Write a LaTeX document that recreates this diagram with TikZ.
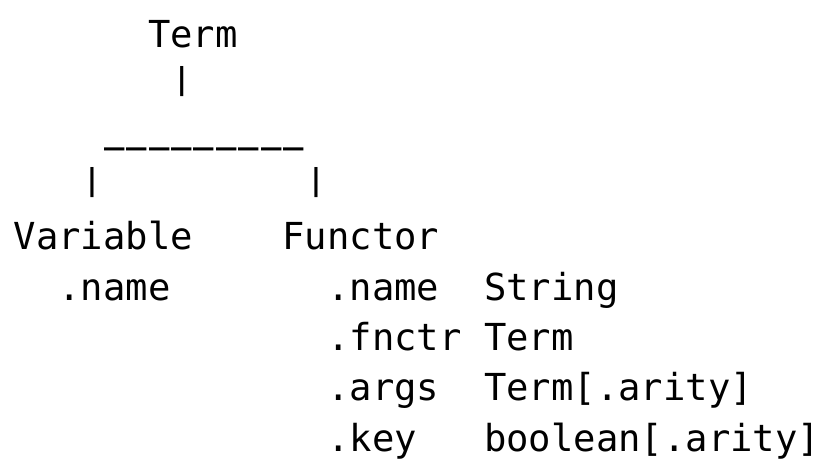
\documentclass[tikz,border=0pt]{standalone}
\usepackage{fontspec}
\usepackage{graphicx}
\setmonofont{DejaVu Sans Mono}
% a vertical bar that stands on the baseline, cap-high
\newcommand\stem{\raisebox{8.6pt}{\scalebox{1}[0.81]{|}}}
% one dash of the rule, a little narrower than its cell
\newcommand\dash{\makebox[22.4pt][c]{\raisebox{16.4pt}{\scalebox{0.91}[2.1]{\_}}}}
\begin{document}
\begin{tikzpicture}[x=1pt,y=-1pt,
  code/.style={anchor=base west, inner sep=0pt, outer sep=0pt,
    font=\ttfamily\fontsize{37.2}{50.4}\selectfont},
]
% character grid: column width 22.4, baseline pitch 50.4
\def\cx#1{13.7+#1*22.4}
\def\ry#1{48+#1*50.4}
\useasboundingbox[fill=white] (0,0) rectangle (821,460);

\node[code] (term)  at ({\cx{6}},{\ry{0}}) {Term};
\node[code] (bar)   at ({\cx{7}},{\ry{1}}) {\stem};
\node[code] (rule)  at ({\cx{4}},{\ry{2}}) {\dash\dash\dash\dash\dash\dash\dash\dash\dash};
\node[code] (barL)  at ({\cx{3}},{\ry{3}}) {\stem};
\node[code] (barR)  at ({\cx{13}},{\ry{3}}) {\stem};
\node[code] (var)   at ({\cx{0}},{\ry{4}}) {Variable};
\node[code] (fun)   at ({\cx{12}},{\ry{4}}) {Functor};
\node[code] (vname) at ({\cx{2}},{\ry{5}}) {.name};

\node[code] (fname)  at ({\cx{14}},{\ry{5}}) {.name};
\node[code] (ffnctr) at ({\cx{14}},{\ry{6}}) {.fnctr};
\node[code] (fargs)  at ({\cx{14}},{\ry{7}}) {.args};
\node[code] (fkey)   at ({\cx{14}},{\ry{8}}) {.key};

\node[code] (tname)  at ({\cx{21}},{\ry{5}}) {String};
\node[code] (tfnctr) at ({\cx{21}},{\ry{6}}) {Term};
\node[code] (targs)  at ({\cx{21}},{\ry{7}}) {Term[.arity]};
\node[code] (tkey)   at ({\cx{21}},{\ry{8}}) {boolean[.arity]};
\end{tikzpicture}
\end{document}
